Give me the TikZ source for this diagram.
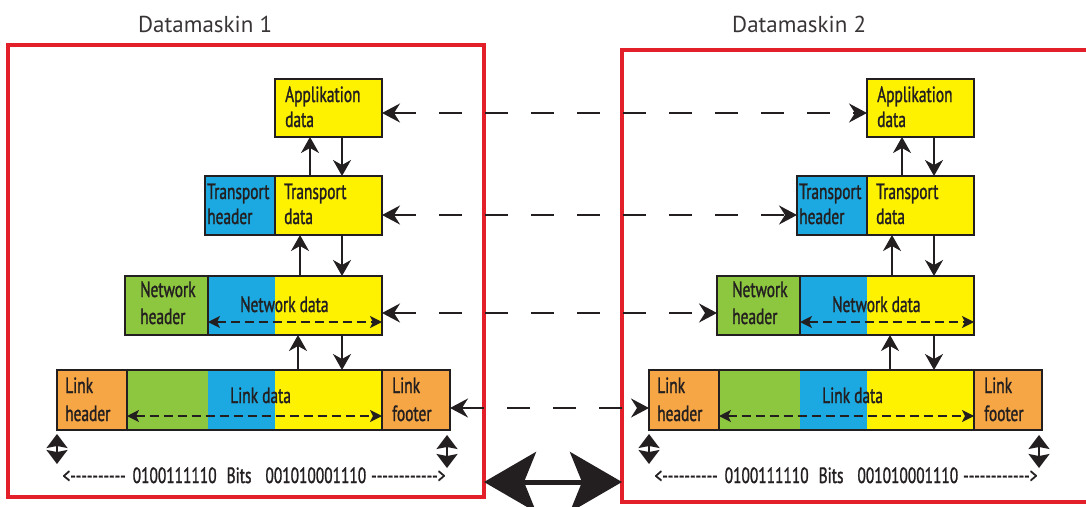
\documentclass[tikz,border=0pt]{standalone}
\usepackage{fontspec}
\setmainfont{PT Sans}
\newfontfamily\boxfont{PT Sans}[FakeStretch=0.70, FakeBold=1.2, Ligatures=TeXOff]
\usetikzlibrary{arrows.meta}
\definecolor{ink}{HTML}{231F20}
\definecolor{cyel}{HTML}{FFF200}
\definecolor{cblue}{HTML}{1CA9E1}
\definecolor{cgreen}{HTML}{8DC63F}
\definecolor{corange}{HTML}{F6A644}
\definecolor{cred}{HTML}{E3202A}
\begin{document}
\begin{tikzpicture}[x=1pt,y=-1pt,
  seg/.style={draw=ink, line width=1.3pt, inner sep=0pt, outer sep=0pt, anchor=north west},
  area/.style={inner sep=0pt, outer sep=0pt, anchor=north west},
  frame/.style={draw=ink, line width=1.3pt},
  txt/.style={font=\boxfont\fontsize{22}{26}\selectfont, text=ink, inner sep=0pt, anchor=base west},
  bits/.style={font=\boxfont\fontsize{22}{26}\selectfont, text=ink, inner sep=0pt, anchor=base},
  ttl/.style={font=\fontsize{23}{28}\selectfont, text=ink!90, inner sep=0pt, anchor=base west},
  machine/.style={draw=cred, line width=3.5pt, inner sep=0pt, outer sep=0pt, anchor=north west},
  vup/.style={draw=ink, line width=1.8pt, -{Stealth[length=16pt,width=18pt,inset=5pt]}},
  xarrow/.style={draw=ink, line width=2pt, dash pattern=on 23pt off 23pt,
     {Stealth[length=18pt,width=19pt,inset=6pt]}-{Stealth[length=18pt,width=19pt,inset=6pt]}},
  inarrow/.style={draw=ink, line width=1.5pt, dash pattern=on 9pt off 5pt,
     {Stealth[length=12pt,width=12pt,inset=3pt]}-{Stealth[length=12pt,width=12pt,inset=3pt]}},
  tick/.style={draw=ink, line width=1.5pt,
     {Stealth[length=14pt,width=21pt,inset=2pt]}-{Stealth[length=14pt,width=21pt,inset=2pt]}},
  bigarrow/.style={draw=ink, line width=5pt,
     {Stealth[length=52pt,width=60pt,inset=12pt]}-{Stealth[length=52pt,width=60pt,inset=12pt]}}
]
\useasboundingbox (0,0) rectangle (1086,506);
\clip (0,0) rectangle (1086,506);

% machines
\node[machine, minimum width=476pt, minimum height=452pt] (m1) at (8,45) {};
\node[machine, minimum width=490pt, minimum height=452pt] (m2) at (622,50) {};
\node[ttl] (title1) at (138,32) {Datamaskin 1};
\node[ttl] (title2) at (732,32) {Datamaskin 2};

\foreach \s/\dx in {L/0,R/592}{
\begin{scope}[xshift=\dx pt]
  % application layer
  \node[seg, fill=cyel, minimum width=107pt, minimum height=58pt] (app\s) at (275,79) {};
  \node[txt] (appa\s) at (285,102) {Applikation};
  \node[txt] (appb\s) at (285,127) {data};
  % transport layer
  \node[seg, fill=cblue, minimum width=70pt, minimum height=59pt] (trh\s) at (205,176) {};
  \node[seg, fill=cyel, minimum width=107pt, minimum height=59pt] (trd\s) at (275,176) {};
  \node[txt] (trha\s) at (207,199) {Transport};
  \node[txt] (trhb\s) at (207,224) {header};
  \node[txt] (trda\s) at (284,199) {Transport};
  \node[txt] (trdb\s) at (284,224) {data};
  % network layer
  \node[area, fill=cblue, minimum width=67pt, minimum height=59pt] (nwb\s) at (208,276) {};
  \node[area, fill=cyel, minimum width=107pt, minimum height=59pt] (nwy\s) at (275,276) {};
  \node[seg, fill=cgreen, minimum width=83pt, minimum height=59pt] (nwh\s) at (125,276) {};
  \draw[frame] (nwb\s.north west) rectangle (nwy\s.south east);
  \node[txt] (nwha\s) at (140,297) {Network};
  \node[txt] (nwhb\s) at (140,324) {header};
  \node[txt] (nwd\s) at (240,312) {Network data};
  % link layer
  \node[area, fill=cgreen, minimum width=81pt, minimum height=60pt] (lg\s) at (127,370) {};
  \node[area, fill=cblue, minimum width=67pt, minimum height=60pt] (lb\s) at (208,370) {};
  \node[area, fill=cyel, minimum width=107pt, minimum height=60pt] (ly\s) at (275,370) {};
  \node[seg, fill=corange, minimum width=70pt, minimum height=60pt] (lh\s) at (57,370) {};
  \node[seg, fill=corange, minimum width=68pt, minimum height=60pt] (lf\s) at (382,370) {};
  \draw[frame] (lg\s.north west) rectangle (ly\s.south east);
  \node[txt] (lha\s) at (65,393) {Link};
  \node[txt] (lhb\s) at (65,421) {header};
  \node[txt] (lfa\s) at (392,393) {Link};
  \node[txt] (lfb\s) at (392,421) {footer};
  \node[txt] (ld\s) at (230,403) {Link data};
  % vertical arrows
  \draw[vup] (trd\s.north -| 310,0) -- (app\s.south -| 310,0);
  \draw[vup] (app\s.south -| 342,0) -- (trd\s.north -| 342,0);
  \draw[vup] (nwy\s.north -| 300,0) -- (trd\s.south -| 300,0);
  \draw[vup] (trd\s.south -| 342,0) -- (nwy\s.north -| 342,0);
  \draw[vup] (ly\s.north -| 298,0) -- (nwy\s.south -| 298,0);
  \draw[vup] (nwy\s.south -| 342,0) -- (ly\s.north -| 342,0);
  % inner dashed arrows
  \draw[inarrow] (nwb\s.west |- 0,322) -- (nwy\s.east |- 0,322);
  \draw[inarrow] (lg\s.west |- 0,416) -- (ly\s.east |- 0,416);
  % ticks
  \coordinate (tla\s) at (57,434);
  \coordinate (tlb\s) at (57,464);
  \coordinate (tra\s) at (447,435);
  \coordinate (trb\s) at (447,468);
  \draw[tick] (tla\s) -- (tlb\s);
  \draw[tick] (tra\s) -- (trb\s);
  % bits
  \node[bits] (bits\s) at (254,483) {<----------\hspace{7pt}0100111110\hspace{10pt}Bits\hspace{14pt}001010001110\hspace{5pt}------------>};
\end{scope}
}

% peer-to-peer arrows
\draw[xarrow] (appL.east |- 0,113) -- (appR.west |- 0,113);
\draw[xarrow] (trdL.east |- 0,215) -- (trhR.west |- 0,215);
\draw[xarrow] (nwyL.east |- 0,313) -- (nwhR.west |- 0,313);
\draw[xarrow] (lfL.east |- 0,408) -- (lhR.west |- 0,408);

% physical link
\draw[bigarrow] (m1.east |- 0,482) -- (m2.west |- 0,482);
\end{tikzpicture}
\end{document}
